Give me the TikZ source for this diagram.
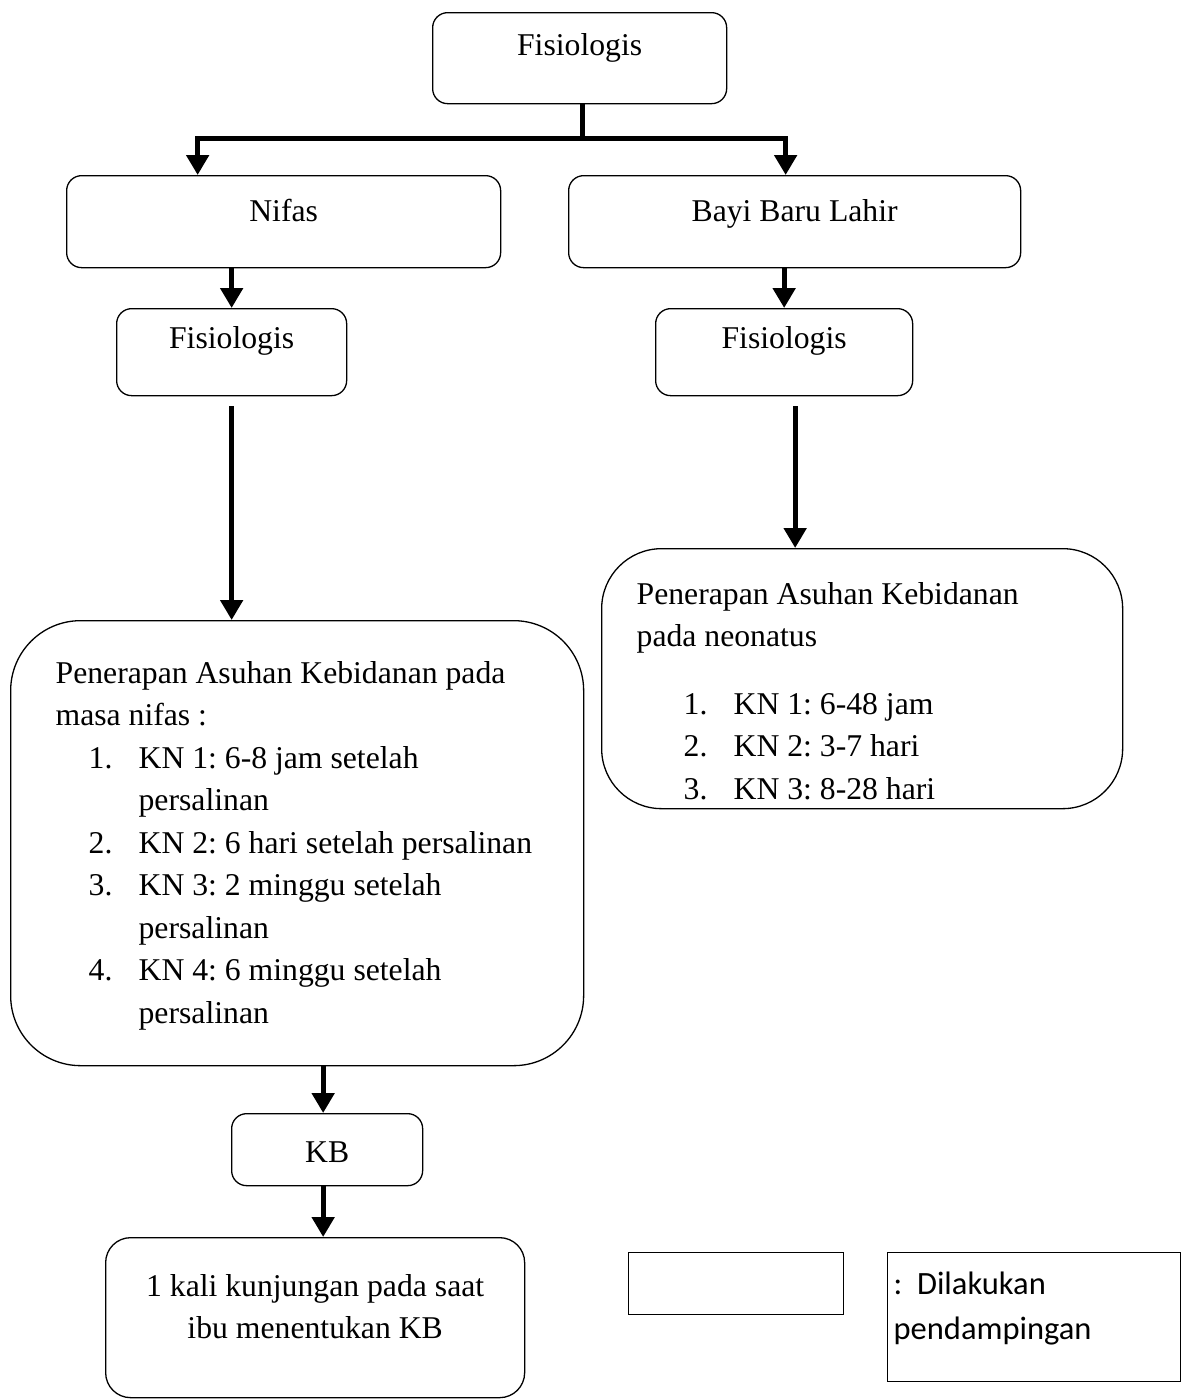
\documentclass[tikz,border=0pt]{standalone}
\usepackage{fontspec}
\setmainfont{Liberation Serif}
\newfontfamily\legendfont{Carlito}
\usetikzlibrary{arrows.meta}
\frenchspacing

\tikzset{
  kotak/.style={draw, line width=1.3pt, rounded corners=#1, inner sep=0pt, anchor=north west},
  kotak/.default=15pt,
  garis/.style={line width=5pt},
  panah/.style={line width=5pt, -{Triangle[length=20pt,width=22pt]}},
  every node/.style={font=\fontsize{31.7pt}{42.5pt}\selectfont}
}
% isi kotak: lebar, tinggi, jarak atas, teks
\newcommand{\isiTengah}[4]{\parbox[t][#2][t]{#1}{\centering\vspace*{#3}\strut#4}}
\newcommand{\isiKiri}[5]{\parbox[t][#2][t]{#1}{\raggedright\leftskip=#4\vspace*{#3}\strut#5}}

\begin{document}
\begin{tikzpicture}[x=1pt,y=-1pt]
\useasboundingbox (0,0) rectangle (1184,1400);

% kotak utama
\node[kotak] (atas) at (432,12) {\isiTengah{294pt}{91pt}{12.6pt}{Fisiologis}};
\node[kotak] (nifas) at (66,175) {\isiTengah{434pt}{92pt}{16pt}{Nifas}};
\node[kotak] (bayi) at (568,175) {\isiTengah{452pt}{92pt}{16pt}{Bayi Baru Lahir}};
\node[kotak] (fisKiri) at (116,308) {\isiTengah{230pt}{87pt}{10pt}{Fisiologis}};
\node[kotak] (fisKanan) at (655,308) {\isiTengah{257pt}{87pt}{10pt}{Fisiologis}};

% penerapan asuhan
\node[kotak=70pt] (nifasAsuhan) at (10,620) {\isiKiri{573pt}{445pt}{32.6pt}{45pt}{%
  Penerapan Asuhan Kebidanan pada\\
  masa nifas :\\
  \hspace*{33pt}\makebox[50pt][l]{1.}KN 1: 6-8 jam setelah\\
  \hspace*{83pt}persalinan\\
  \hspace*{33pt}\makebox[50pt][l]{2.}KN 2: 6 hari setelah persalinan\\
  \hspace*{33pt}\makebox[50pt][l]{3.}KN 3: 2 minggu setelah\\
  \hspace*{83pt}persalinan\\
  \hspace*{33pt}\makebox[50pt][l]{4.}KN 4: 6 minggu setelah\\
  \hspace*{83pt}persalinan}};
\node[kotak=60pt] (bayiAsuhan) at (601,548) {\isiKiri{521pt}{260pt}{25.6pt}{35pt}{%
  Penerapan Asuhan Kebidanan\\
  pada neonatus\\[25pt]
  \hspace*{47pt}\makebox[50pt][l]{1.}KN 1: 6-48 jam\\
  \hspace*{47pt}\makebox[50pt][l]{2.}KN 2: 3-7 hari\\
  \hspace*{47pt}\makebox[50pt][l]{3.}KN 3: 8-28 hari}};

% KB
\node[kotak] (kb) at (231,1113) {\isiTengah{191pt}{72pt}{18.6pt}{KB}};
\node[kotak=25pt] (kunjungan) at (105,1237) {\isiTengah{419pt}{160pt}{28.6pt}{1 kali kunjungan pada saat\\ ibu menentukan KB}};

% keterangan
\node[kotak=0pt, minimum width=215pt, minimum height=62pt] (ketKotak) at (628,1252) {};
\node[kotak=0pt, font=\legendfont\fontsize{32.5pt}{45pt}\selectfont] (ketTeks) at (887,1252)
  {\isiKiri{293pt}{129pt}{10pt}{6pt}{:\ \ Dilakukan\\ pendampingan}};

% panah
\coordinate (cabang) at (582,138);
\draw[garis] (atas.south -| cabang) -- (cabang);
\draw[panah] (cabang) -| ([xshift=-86pt]nifas.north);
\draw[panah] (cabang) -| ([xshift=-9pt]bayi.north);
\draw[panah] (nifas.south -| fisKiri.north) -- (fisKiri.north);
\draw[panah] (bayi.south -| fisKanan.north) -- (fisKanan.north);
\draw[panah] ([yshift=-10pt]fisKiri.south) -- (fisKiri.south |- nifasAsuhan.north);
\draw[panah] ([xshift=11pt,yshift=-10pt]fisKanan.south) -- ([xshift=11pt]fisKanan.south |- bayiAsuhan.north);
\draw[panah] ([xshift=-4pt]kb.north |- nifasAsuhan.south) -- ([xshift=-4pt]kb.north);
\draw[panah] ([xshift=-4pt]kb.south) -- ([xshift=-4pt]kb.south |- kunjungan.north);

\end{tikzpicture}
\end{document}
